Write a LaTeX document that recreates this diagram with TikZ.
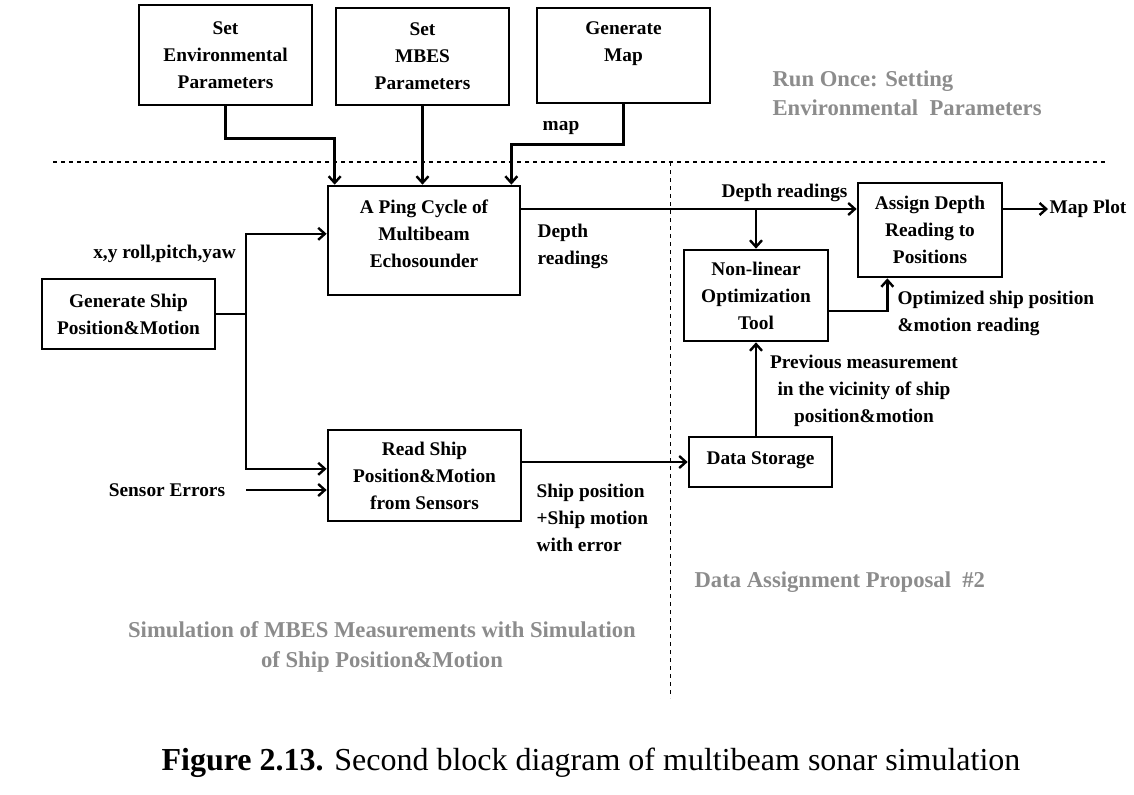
\documentclass[tikz,border=0pt]{standalone}
\usepackage{fontspec}
\setmainfont{Liberation Serif}
\usetikzlibrary{arrows.meta,positioning}
\definecolor{sbgrey}{RGB}{140,140,140}
\tikzset{
  blk/.style={draw,line width=2pt,align=center,inner sep=2pt,
    font=\bfseries\fontsize{14.5}{20.25}\selectfont},
  lbl/.style={inner sep=1pt,font=\bfseries\fontsize{14.5}{20.25}\selectfont},
  note/.style={inner sep=1pt,text=sbgrey,font=\bfseries\fontsize{17}{22}\selectfont},
  wire/.style={line width=1.8pt},
  arr/.style={wire,-{Straight Barb[length=5pt,width=9pt]}},
}

\begin{document}
\begin{tikzpicture}[x=0.75pt,y=-0.75pt]
\useasboundingbox (0,0) rectangle (1134,794);

\node[blk,minimum width=129.75pt,minimum height=75pt] (env) at (225.5,55)
{Set\\Environmental\\Parameters};
\node[blk,minimum width=129.75pt,minimum height=72.75pt] (mbes) at (422.5,56.5)
{Set\\MBES\\Parameters};
\node[blk,minimum width=129.75pt,minimum height=71.25pt] (gmap) at (623.5,55.5)
{Generate\\Map\\~};

\node[blk,minimum width=144pt,minimum height=81.75pt] (ping) at (424,240.5)
{A Ping Cycle of\\Multibeam\\Echosounder\\[-10.5pt]\mbox{}};
\node[blk,minimum width=129.75pt,minimum height=52.5pt] (ship) at (128.5,314)
{Generate Ship\\Position\&Motion};
\node[blk,minimum width=144.75pt,minimum height=68.25pt] (read) at (424.5,475.5)
{Read Ship\\Position\&Motion\\from Sensors};
\node[blk,minimum width=107.25pt,minimum height=37.5pt] (store) at (760.5,462)
{Data Storage\\[-14pt]\mbox{}};
\node[blk,minimum width=108pt,minimum height=68.25pt] (nlin) at (756,295.5)
{Non-linear\\Optimization\\Tool};
\node[blk,minimum width=108pt,minimum height=70.5pt] (assign) at (930,230)
{Assign Depth\\Reading to\\Positions};

\node[lbl] (plot) at (1088,209) {Map Plot};
\node[lbl] (sens) at (167,490) {Sensor Errors};

\draw[dashed,line width=0.8pt] (53,162) -- (1108,162);
\draw[dashed,line width=0.5pt] (670,162) -- (670,698);

\draw[arr] (env.south) -- ++(0,32) -| ([xshift=6pt]ping.north west);
\draw[arr] (mbes.south) -- (mbes.south |- ping.north);
\draw[arr] (gmap.south) -- ++(0,40) -| ([xshift=-7.5pt]ping.north east);
\node[lbl] (maplbl) at (561,128) {map};

\coordinate (br) at (246,314);
\draw[wire] (ship.east) -- (br);
\draw[arr] (br) |- ([yshift=5pt]ping.west);
\draw[arr] (br) |- ([yshift=5pt]read.west);
\draw[arr] (br |- sens) -- (read.west |- sens);
\node[lbl] (motlbl) at (164.5,254) {x,y roll,pitch,yaw};

\coordinate (dr) at (756,209);
\draw[arr] (ping.east |- dr) -- (assign.west |- dr);
\draw[arr] (dr) -- (nlin.north);
\draw[arr] (assign.east |- dr) -- (plot.west);
\node[lbl] (deplbl) at (784.5,193) {Depth readings};
\node[lbl,align=left,anchor=west] (deplbl2) at (536,246.5) {Depth\\readings};

\draw[arr] (read.east |- store.west) -- (store.west);
\node[lbl,align=left,anchor=west] (errlbl) at (535,518)
{Ship position\\+Ship motion\\with error};

\draw[arr] (nlin.south |- store.north) -- (nlin.south);
\node[lbl,align=center] (prevlbl) at (864,391)
{Previous measurement\\in the vicinity of ship\\position\&motion};

\draw[arr] ([yshift=-11.6pt]nlin.east) -| ([xshift=23pt]assign.south west);
\node[lbl,align=left,anchor=west] (optlbl) at (896,313.5)
{Optimized ship position\\\&motion reading};

\node[note,align=left,anchor=west] (runlbl) at (771,93.5)
{Run Once: Setting\\Environmental\ \ Parameters};
\node[note,anchor=west] (daplbl) at (693,582) {Data Assignment Proposal\ \ \#2};
\node[note,align=center] (simlbl) at (382,647)
{Simulation of MBES Measurements with Simulation\\of Ship Position\&Motion};

\node (cap) at (591,763) {\fontsize{24}{28}\selectfont\textbf{Figure 2.13.} Second block diagram of multibeam sonar simulation};

\end{tikzpicture}
\end{document}
